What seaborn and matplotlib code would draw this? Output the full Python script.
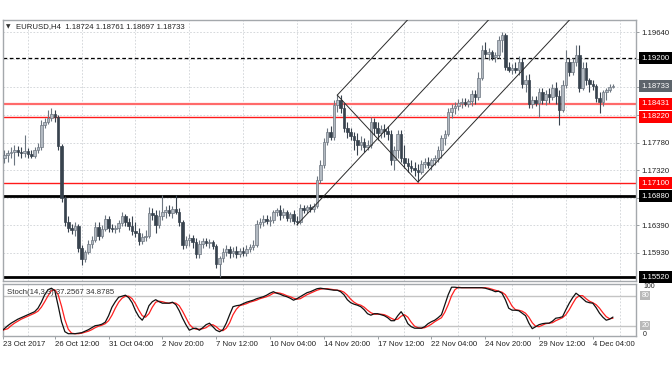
import numpy as np
import pandas as pd
import matplotlib
matplotlib.use("Agg")
import matplotlib.pyplot as plt
import matplotlib.transforms as mtransforms
import seaborn as sns

# ---------------- data ----------------
opens = [1.1741, 1.1752, 1.1757, 1.1761, 1.1762, 1.1766, 1.1762, 1.1761, 1.1764, 1.1759,
         1.1756, 1.1766, 1.1771, 1.1808, 1.1813, 1.1820, 1.1826, 1.1821, 1.1773, 1.1685,
         1.1645, 1.1635, 1.1631, 1.1638, 1.1601, 1.1583, 1.1594, 1.1608, 1.1615, 1.1636,
         1.1621, 1.1633, 1.1650, 1.1635, 1.1633, 1.1635, 1.1643, 1.1655, 1.1645, 1.1638,
         1.1630, 1.1626, 1.1613, 1.1620, 1.1621, 1.1660, 1.1657, 1.1640, 1.1655, 1.1662,
         1.1665, 1.1660, 1.1667, 1.1662, 1.1645, 1.1606, 1.1615, 1.1618, 1.1611, 1.1591,
         1.1608, 1.1613, 1.1610, 1.1611, 1.1605, 1.1574, 1.1584, 1.1594, 1.1600, 1.1593,
         1.1596, 1.1591, 1.1596, 1.1593, 1.1600, 1.1603, 1.1606, 1.1642, 1.1645, 1.1650,
         1.1647, 1.1648, 1.1662, 1.1665, 1.1657, 1.1662, 1.1652, 1.1658, 1.1647, 1.1645,
         1.1668, 1.1665, 1.1670, 1.1667, 1.1672, 1.1715, 1.1741, 1.1779, 1.1796, 1.1788,
         1.1841, 1.1850, 1.1836, 1.1803, 1.1796, 1.1789, 1.1783, 1.1774, 1.1779, 1.1771,
         1.1774, 1.1813, 1.1803, 1.1794, 1.1801, 1.1798, 1.1793, 1.1749, 1.1766, 1.1793,
         1.1752, 1.1744, 1.1739, 1.1736, 1.1732, 1.1729, 1.1742, 1.1746, 1.1741, 1.1749,
         1.1752, 1.1766, 1.1786, 1.1793, 1.1830, 1.1836, 1.1840, 1.1845, 1.1846, 1.1843,
         1.1848, 1.1860, 1.1855, 1.1887, 1.1934, 1.1927, 1.1930, 1.1922, 1.1925, 1.1951,
         1.1959, 1.1905, 1.1900, 1.1904, 1.1900, 1.1914, 1.1877, 1.1883, 1.1843, 1.1850,
         1.1845, 1.1863, 1.1850, 1.1860, 1.1855, 1.1870, 1.1856, 1.1833, 1.1875, 1.1914,
         1.1897, 1.1914, 1.1925, 1.1870, 1.1904, 1.1883, 1.1877, 1.1873, 1.1853, 1.1846,
         1.1863, 1.1867, 1.18724]
highs = [1.1762, 1.1766, 1.1766, 1.1771, 1.1774, 1.1773, 1.1771, 1.1791, 1.1769, 1.1766,
         1.1771, 1.1778, 1.1816, 1.1820, 1.1833, 1.1836, 1.1833, 1.1825, 1.1776, 1.1688,
         1.1655, 1.1642, 1.1645, 1.1642, 1.1606, 1.1598, 1.1615, 1.1621, 1.1645, 1.1645,
         1.1640, 1.1657, 1.1655, 1.1642, 1.1640, 1.1648, 1.1662, 1.1658, 1.1652, 1.1655,
         1.1645, 1.1635, 1.1626, 1.1631, 1.1670, 1.1668, 1.1665, 1.1665, 1.1690, 1.1672,
         1.1673, 1.1672, 1.1690, 1.1668, 1.1648, 1.1621, 1.1625, 1.1623, 1.1618, 1.1615,
         1.1618, 1.1618, 1.1616, 1.1615, 1.1608, 1.1588, 1.1601, 1.1606, 1.1605, 1.1603,
         1.1605, 1.1601, 1.1603, 1.1606, 1.1608, 1.1615, 1.1648, 1.1652, 1.1657, 1.1657,
         1.1655, 1.1665, 1.1668, 1.1673, 1.1668, 1.1665, 1.1662, 1.1665, 1.1655, 1.1675,
         1.1673, 1.1673, 1.1675, 1.1677, 1.1722, 1.1749, 1.1786, 1.1803, 1.1806, 1.1850,
         1.1858, 1.1858, 1.1845, 1.1813, 1.1803, 1.1796, 1.1794, 1.1789, 1.1786, 1.1783,
         1.1821, 1.1820, 1.1813, 1.1808, 1.1809, 1.1806, 1.1799, 1.1773, 1.1799, 1.1799,
         1.1774, 1.1752, 1.1749, 1.1746, 1.1742, 1.1749, 1.1752, 1.1754, 1.1752, 1.1757,
         1.1773, 1.1791, 1.1799, 1.1836, 1.1843, 1.1846, 1.1851, 1.1853, 1.1853, 1.1851,
         1.1867, 1.1867, 1.1897, 1.1942, 1.1947, 1.1937, 1.1934, 1.1930, 1.1957, 1.1964,
         1.1962, 1.1914, 1.1910, 1.1914, 1.1924, 1.1920, 1.1892, 1.1893, 1.1856, 1.1856,
         1.1870, 1.1870, 1.1867, 1.1870, 1.1877, 1.1880, 1.1867, 1.1883, 1.1934, 1.1920,
         1.1920, 1.1942, 1.1942, 1.1914, 1.1914, 1.1887, 1.1883, 1.1877, 1.1863, 1.1867,
         1.1870, 1.1877, 1.18761]
lows = [1.1727, 1.1744, 1.1746, 1.1752, 1.1741, 1.1756, 1.1752, 1.1754, 1.1752, 1.1752,
        1.1752, 1.1761, 1.1766, 1.1803, 1.1809, 1.1815, 1.1813, 1.1766, 1.1678, 1.1638,
        1.1628, 1.1625, 1.1621, 1.1594, 1.1573, 1.1578, 1.1591, 1.1601, 1.1611, 1.1615,
        1.1618, 1.1630, 1.1628, 1.1628, 1.1626, 1.1628, 1.1638, 1.1638, 1.1631, 1.1623,
        1.1620, 1.1606, 1.1608, 1.1613, 1.1618, 1.1648, 1.1626, 1.1635, 1.1648, 1.1652,
        1.1655, 1.1652, 1.1658, 1.1638, 1.1600, 1.1601, 1.1605, 1.1601, 1.1584, 1.1584,
        1.1601, 1.1605, 1.1601, 1.1600, 1.1568, 1.1552, 1.1578, 1.1588, 1.1584, 1.1586,
        1.1584, 1.1586, 1.1588, 1.1588, 1.1594, 1.1598, 1.1603, 1.1635, 1.1638, 1.1642,
        1.1638, 1.1643, 1.1655, 1.1648, 1.1652, 1.1647, 1.1645, 1.1642, 1.1640, 1.1642,
        1.1660, 1.1660, 1.1662, 1.1662, 1.1668, 1.1710, 1.1736, 1.1774, 1.1783, 1.1783,
        1.1830, 1.1828, 1.1796, 1.1786, 1.1783, 1.1766, 1.1757, 1.1766, 1.1762, 1.1766,
        1.1769, 1.1791, 1.1783, 1.1786, 1.1788, 1.1783, 1.1741, 1.1732, 1.1752, 1.1746,
        1.1736, 1.1729, 1.1729, 1.1722, 1.1712, 1.1726, 1.1736, 1.1736, 1.1732, 1.1741,
        1.1746, 1.1752, 1.1774, 1.1789, 1.1820, 1.1826, 1.1833, 1.1836, 1.1840, 1.1838,
        1.1840, 1.1843, 1.1850, 1.1883, 1.1920, 1.1917, 1.1917, 1.1914, 1.1920, 1.1930,
        1.1900, 1.1897, 1.1893, 1.1895, 1.1892, 1.1870, 1.1863, 1.1836, 1.1836, 1.1840,
        1.1821, 1.1843, 1.1841, 1.1845, 1.1850, 1.1843, 1.1808, 1.1830, 1.1870, 1.1890,
        1.1892, 1.1907, 1.1863, 1.1867, 1.1875, 1.1863, 1.1867, 1.1846, 1.1828, 1.1840,
        1.1850, 1.1863, 1.18697]
closes = [1.1752, 1.1757, 1.1761, 1.1762, 1.1766, 1.1762, 1.1761, 1.1764, 1.1759, 1.1756,
          1.1766, 1.1771, 1.1808, 1.1813, 1.1820, 1.1826, 1.1821, 1.1773, 1.1685, 1.1645,
          1.1635, 1.1631, 1.1638, 1.1601, 1.1583, 1.1594, 1.1608, 1.1615, 1.1636, 1.1621,
          1.1633, 1.1650, 1.1635, 1.1633, 1.1635, 1.1643, 1.1655, 1.1645, 1.1638, 1.1630,
          1.1626, 1.1613, 1.1620, 1.1621, 1.1660, 1.1657, 1.1640, 1.1655, 1.1662, 1.1665,
          1.1660, 1.1667, 1.1662, 1.1645, 1.1606, 1.1615, 1.1618, 1.1611, 1.1591, 1.1608,
          1.1613, 1.1610, 1.1611, 1.1605, 1.1574, 1.1584, 1.1594, 1.1600, 1.1593, 1.1596,
          1.1591, 1.1596, 1.1593, 1.1600, 1.1603, 1.1606, 1.1642, 1.1645, 1.1650, 1.1647,
          1.1648, 1.1662, 1.1665, 1.1657, 1.1662, 1.1652, 1.1658, 1.1647, 1.1645, 1.1668,
          1.1665, 1.1670, 1.1667, 1.1672, 1.1715, 1.1741, 1.1779, 1.1796, 1.1788, 1.1841,
          1.1850, 1.1836, 1.1803, 1.1796, 1.1789, 1.1783, 1.1774, 1.1779, 1.1771, 1.1774,
          1.1813, 1.1803, 1.1794, 1.1801, 1.1798, 1.1793, 1.1749, 1.1766, 1.1793, 1.1752,
          1.1744, 1.1739, 1.1736, 1.1732, 1.1729, 1.1742, 1.1746, 1.1741, 1.1749, 1.1752,
          1.1766, 1.1786, 1.1793, 1.1830, 1.1836, 1.1840, 1.1845, 1.1846, 1.1843, 1.1848,
          1.1860, 1.1855, 1.1887, 1.1934, 1.1927, 1.1930, 1.1922, 1.1925, 1.1951, 1.1959,
          1.1905, 1.1900, 1.1904, 1.1900, 1.1914, 1.1877, 1.1883, 1.1843, 1.1850, 1.1845,
          1.1863, 1.1850, 1.1860, 1.1855, 1.1870, 1.1856, 1.1833, 1.1875, 1.1914, 1.1897,
          1.1914, 1.1925, 1.1870, 1.1904, 1.1883, 1.1877, 1.1873, 1.1853, 1.1846, 1.1863,
          1.1867, 1.18724, 1.18733]

stoch_k = [8, 14, 20, 25, 29, 33, 36, 39, 42, 45,
           48, 55, 67, 82, 92, 95, 90, 60, 28, 8,
           4, 4, 4, 5, 6, 9, 12, 16, 20, 21,
           23, 27, 40, 57, 68, 77, 79, 81, 76, 66,
           50, 38, 31, 42, 60, 68, 72, 68, 65, 65,
           65, 67, 62, 50, 35, 22, 11, 14, 15, 11,
           16, 22, 25, 18, 11, 8, 12, 25, 42, 58,
           60, 61, 64, 67, 69, 71, 74, 76, 78, 81,
           85, 88, 85, 83, 80, 78, 75, 71, 74, 78,
           82, 86, 88, 91, 94, 95, 94, 93, 92, 91,
           91, 88, 82, 72, 66, 63, 61, 58, 52, 44,
           41, 44, 44, 42, 40, 36, 30, 30, 40, 48,
           38, 24, 18, 15, 15, 15, 18, 24, 28, 31,
           36, 42, 62, 82, 97, 97, 96, 96, 96, 96,
           96, 96, 96, 96, 95, 93, 91, 88, 89, 85,
           72, 55, 51, 51, 50, 45, 40, 25, 14, 18,
           22, 24, 25, 25, 29, 35, 36, 38, 52, 65,
           76, 85, 80, 74, 68, 66, 65, 56, 45, 37,
           31, 33, 37.2567]
stoch_d = [10, 12, 14, 20, 25, 29, 33, 36, 39, 42,
           45, 49, 57, 68, 80, 90, 92, 82, 59, 32,
           13, 5, 4, 4, 5, 7, 9, 12, 16, 19,
           21, 24, 30, 41, 55, 67, 75, 79, 79, 74,
           64, 51, 40, 37, 44, 57, 67, 69, 68, 66,
           65, 66, 65, 60, 49, 36, 23, 16, 13, 13,
           14, 16, 21, 22, 18, 12, 10, 15, 26, 42,
           53, 60, 62, 64, 67, 69, 71, 74, 76, 78,
           81, 85, 86, 85, 83, 80, 78, 75, 73, 74,
           78, 82, 85, 88, 91, 93, 94, 94, 93, 92,
           91, 90, 87, 81, 73, 67, 63, 61, 57, 51,
           46, 43, 43, 43, 42, 39, 35, 32, 33, 39,
           42, 37, 27, 19, 16, 15, 16, 19, 23, 28,
           32, 36, 47, 62, 80, 92, 97, 96, 96, 96,
           96, 96, 96, 96, 96, 95, 93, 91, 89, 87,
           82, 71, 59, 52, 51, 49, 45, 37, 26, 19,
           18, 21, 24, 25, 26, 30, 33, 36, 42, 52,
           64, 75, 80, 80, 74, 69, 66, 62, 55, 46,
           38, 34, 34.8785]

x_tick_bars = [0.7, 16, 32, 48, 64, 80, 96, 112, 128, 144, 160, 176]
x_tick_labels = ['23 Oct 2017', '26 Oct 12:00', '31 Oct 04:00', '2 Nov 20:00',
                 '7 Nov 12:00', '10 Nov 04:00', '14 Nov 20:00', '17 Nov 12:00',
                 '22 Nov 04:00', '24 Nov 20:00', '29 Nov 12:00', '4 Dec 04:00']
grid_bars = [8, 16, 24, 32, 40, 48, 56, 64, 72, 80, 88, 96, 104, 112, 120, 128,
             136, 144, 152, 160, 168, 176, 184]

price_ticks = [1.19640, 1.19180, 1.18720, 1.18250, 1.17780, 1.17320, 1.16850, 1.16390, 1.15930]
price_tick_labels = ['1.19640', '', '', '', '1.17780', '1.17320', '', '1.16390', '1.15930']

level_prices = [1.19200, 1.18431, 1.18220, 1.17100, 1.16880, 1.15520]
level_line_colors = ['black', '#ff6a6a', '#ff1a1a', '#ff1a1a', 'black', 'black']
level_box_colors = ['black', '#ff0000', '#ff0000', '#ff0000', 'black', 'black']
current_price = 1.18733

fork_bars = [88, 100, 124]
fork_prices = [1.1640, 1.1858, 1.1712]

title_text = "EURUSD,H4  1.18724 1.18761 1.18697 1.18733"
stoch_text = "Stoch(14,3,3) 37.2567 34.8785"

# ---------------- style ----------------
sns.set_theme(style="white")
plt.rcParams['font.family'] = ['Liberation Sans', 'DejaVu Sans']
FS = 5.6
SPINE = '#a4a8ac'
GRID = '#cfd2d6'

W, H = 672, 372
fig = plt.figure(figsize=(6.72, 3.72), dpi=100)
fig.patch.set_facecolor('white')


def rect(l, t, r, b):
    return [l / W, 1 - b / H, (r - l) / W, (b - t) / H]


ax = fig.add_axes(rect(3, 20, 636, 281))
ax2 = fig.add_axes(rect(3, 284, 636, 336), sharex=ax)

n = len(closes)
xs = np.arange(n)
o = np.array(opens); c = np.array(closes); h = np.array(highs); l = np.array(lows)
bull = c >= o
bull_face, bull_edge = '#b3bac2', '#6d7680'
bear_face = '#38434e'
faces = np.where(bull, bull_face, bear_face)
edges = np.where(bull, bull_edge, bear_face)
bottoms = np.minimum(o, c)
heights = np.maximum(np.abs(c - o), 0.00008)

# grid
ax.set_yticks(price_ticks)
ax.set_yticklabels(price_tick_labels)
ax.grid(True, axis='y', color=GRID, ls=(0, (2, 2)), lw=0.6, zorder=0)
ax2.set_xticks(grid_bars, minor=True)
ax.grid(True, axis='x', which='minor', color=GRID, ls=(0, (2, 2)), lw=0.6, zorder=0)
ax2.grid(True, axis='x', which='minor', color=GRID, ls=(0, (2, 2)), lw=0.6, zorder=0)
ax.grid(False, axis='x', which='major')
ax2.grid(False, axis='x', which='major')
ax2.grid(False, axis='y')

# levels
for p, col in zip(level_prices, level_line_colors):
    if p == 1.19200:
        ax.axhline(p, color=col, lw=0.9, ls=(0, (3, 2)), zorder=1.5)
    elif col == 'black':
        ax.axhline(p, color=col, lw=2.0, zorder=1.5)
    elif p == 1.18431:
        ax.axhline(p, color=col, lw=1.6, zorder=1.5)
    else:
        ax.axhline(p, color=col, lw=1.0, zorder=1.5)

# candles
ax.vlines(xs, l, h, colors=edges, lw=0.8, zorder=3)
ax.bar(xs, heights, bottom=bottoms, width=0.76, color=faces, edgecolor=edges,
       linewidth=0.5, zorder=3.5)

# pitchfork
fb = np.array(fork_bars, dtype=float); fp = np.array(fork_prices)
mid_b = (fb[1] + fb[2]) / 2; mid_p = (fp[1] + fp[2]) / 2
slope = (mid_p - fp[0]) / (mid_b - fb[0])
far = 200
for b0, p0 in zip(fb, fp):
    ax.plot([b0, far], [p0, p0 + slope * (far - b0)], color='#2a2a2a', lw=0.7, zorder=4)
ax.plot([fb[1], fb[2]], [fp[1], fp[2]], color='#2a2a2a', lw=0.7, zorder=4)

ax.set_xlim(0.595, 188.85)
ax.set_ylim(1.15457, 1.19842)

# right price axis
ax.yaxis.tick_right()
ax.tick_params(axis='y', which='major', length=2.2, width=0.6, pad=2.0, labelsize=FS,
               colors='#8a8f94', labelcolor='#222222', right=True, left=False)
ax.tick_params(axis='x', which='both', length=0, labelbottom=False, bottom=False)

trans = mtransforms.blended_transform_factory(ax.transAxes, ax.transData)
for p, bc in zip(level_prices, level_box_colors):
    ax.text(1 + 5.5 / 633, p, f'{p:.5f}', transform=trans, ha='left', va='center',
            fontsize=FS, color='white', clip_on=False, zorder=10,
            bbox=dict(boxstyle='square,pad=0.32', fc=bc, ec='none'))
ax.text(1 + 5.5 / 633, current_price, f'{current_price:.5f}', transform=trans, ha='left',
        va='center', fontsize=FS, color='white', clip_on=False, zorder=10,
        bbox=dict(boxstyle='square,pad=0.32', fc='#5d646b', ec='none'))

# stochastic panel
df = pd.DataFrame({'bar': xs, 'K': stoch_k, 'D': stoch_d})
ax2.axhline(80, color='#c4c4c4', lw=1.0, zorder=1)
ax2.axhline(20, color='#c4c4c4', lw=1.0, zorder=1)
sns.lineplot(data=df, x='bar', y='D', color='#ff2020', lw=0.9, ax=ax2, zorder=3)
sns.lineplot(data=df, x='bar', y='K', color='#111111', lw=0.9, ax=ax2, zorder=4)
ax2.set_ylim(-0.6, 103.4)
ax2.set_xlabel('')
ax2.set_ylabel('')
ax2.set_yticks([])
ax2.set_xticks(x_tick_bars)
ax2.set_xticklabels(x_tick_labels)
for lb in ax2.get_xticklabels():
    lb.set_ha('left')
ax2.tick_params(axis='x', which='major', length=2.5, width=0.6, pad=1.2, labelsize=FS,
                colors='#8a8f94', labelcolor='#222222', bottom=True)
ax2.tick_params(axis='x', which='minor', length=0)
ax.set_xlim(0.595, 188.85)

t2 = mtransforms.blended_transform_factory(ax2.transAxes, ax2.transData)
for v in [80, 20]:
    ax2.text(1 + 5.5 / 633, v, str(v), transform=t2, ha='left', va='center', fontsize=5.0,
             color='white', clip_on=False,
             bbox=dict(boxstyle='square,pad=0.15', fc='#b9b9b9', ec='none'))
ax2.text(1 + 7 / 633, 0.95, '100', transform=ax2.transAxes, ha='left', va='center',
         fontsize=5.0, color='#222222', clip_on=False)
ax2.text(1 + 7 / 633, 0.03, '0', transform=ax2.transAxes, ha='left', va='center',
         fontsize=5.0, color='#222222', clip_on=False)

for a in (ax, ax2):
    for s in a.spines.values():
        s.set_color(SPINE)
        s.set_linewidth(1.0)
        s.set_visible(True)

# titles
fig.text(5.5 / W, 1 - 27 / H, '\u25BC', fontsize=4.2, family=['DejaVu Sans'],
         va='center', ha='left', color='#333333')
fig.text(16 / W, 1 - 27 / H, title_text, fontsize=FS, va='center', ha='left', color='#222222')
fig.text(7 / W, 1 - 292.5 / H, stoch_text, fontsize=FS, va='center', ha='left', color='#333333')

fig.savefig('out.png', dpi=100, facecolor='white')
